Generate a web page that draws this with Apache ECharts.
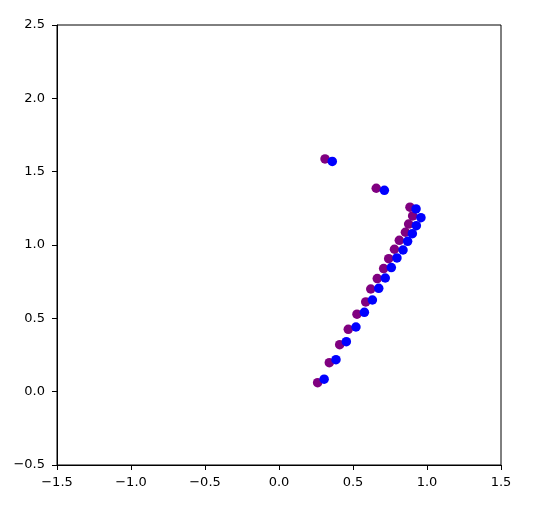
<!DOCTYPE html>
<html>
<head>
<meta charset="utf-8">
<script src="https://cdn.jsdelivr.net/npm/echarts@6/dist/echarts.min.js"></script>
<style>html,body{margin:0;padding:0;background:#fff;}#c{width:536px;height:522px;}</style>
</head>
<body>
<div id="c"></div>
<script>
const purpleX = [0.311, 0.657, 0.885, 0.903, 0.876, 0.854, 0.813, 0.780, 0.741, 0.707, 0.664, 0.620, 0.586, 0.527, 0.468, 0.410, 0.340, 0.261];
const purpleY = [1.587, 1.387, 1.258, 1.198, 1.143, 1.087, 1.032, 0.971, 0.907, 0.839, 0.771, 0.700, 0.612, 0.528, 0.425, 0.320, 0.198, 0.061];
const blueX = [0.360, 0.712, 0.926, 0.959, 0.928, 0.901, 0.869, 0.838, 0.797, 0.759, 0.718, 0.674, 0.631, 0.577, 0.520, 0.455, 0.385, 0.305];
const blueY = [1.570, 1.373, 1.246, 1.186, 1.132, 1.077, 1.025, 0.966, 0.912, 0.846, 0.775, 0.705, 0.625, 0.541, 0.441, 0.341, 0.218, 0.085];

const fmt = v => v.toFixed(1).replace('-', '\u2212');
function axis(margin) {
  return {
    interval: 0.5,
    splitLine: {show: false},
    axisLine: {show: true, onZero: false, lineStyle: {color: '#000', width: 1}},
    axisTick: {show: true, inside: false, length: 5, lineStyle: {color: '#000', width: 1}},
    axisLabel: {color: '#000', fontSize: 13, fontFamily: 'DejaVu Sans', margin: margin, formatter: fmt}
  };
}
const chart = echarts.init(document.getElementById('c'));
chart.setOption({
  animation: false,
  backgroundColor: '#fff',
  grid: {left: 57, right: 35, top: 25, bottom: 57, show: true, borderColor: '#000', borderWidth: 1, backgroundColor: 'transparent'},
  xAxis: Object.assign({type: 'value', min: -1.5, max: 1.5}, axis(11)),
  yAxis: Object.assign({type: 'value', min: -0.5, max: 2.5}, axis(12)),
  series: [
    {type: 'scatter', symbolSize: 9.5, itemStyle: {color: '#800080', opacity: 1},
     data: purpleX.map((x, i) => [x, purpleY[i]])},
    {type: 'scatter', symbolSize: 9.5, itemStyle: {color: '#0000ff', opacity: 1},
     data: blueX.map((x, i) => [x, blueY[i]])}
  ]
});
</script>
</body>
</html>
